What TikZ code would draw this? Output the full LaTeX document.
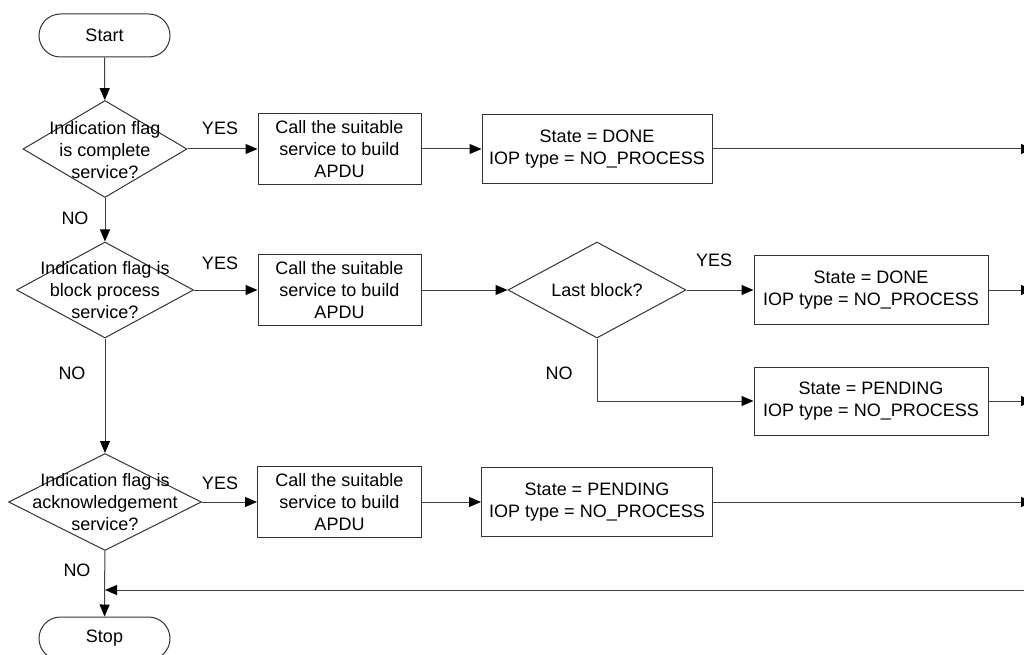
\documentclass[tikz,border=0pt]{standalone}
\usepackage{fontspec}
\setmainfont{Liberation Sans}
\usetikzlibrary{arrows.meta,shapes.geometric}

\begin{document}
\begin{tikzpicture}[x=1pt,y=-1pt,
  every node/.style={font=\fontsize{18}{22}\selectfont, text=black},
  line/.style={draw=black!75, line width=1pt},
  flow/.style={line, -{Triangle[length=12pt,width=10pt,color=black]}},
  terminal/.style={draw=black!80, line width=1pt, rounded corners=21.5pt,
    minimum width=131pt, minimum height=43pt, inner sep=0pt},
  process/.style={draw=black!80, line width=1pt, align=center, inner sep=0pt},
  decision/.style={draw=black!80, line width=1pt, diamond, inner sep=0pt},
  dtext/.style={align=center, inner sep=0pt},
  lbl/.style={inner sep=0pt}
]
\useasboundingbox (0,0) rectangle (1024,655);

% terminals
\node[terminal] (start) at (104.5,35.5) {Start};
\node[terminal] (stop) at (104.5,638.5) {Stop};

% decisions on the main column
\node[decision, minimum width=164pt, minimum height=97pt] (d1) at (105,149) {};
\node[dtext] (d1t) at (105,150) {Indication flag\\is complete\\service?};
\node[decision, minimum width=177pt, minimum height=96pt] (d2) at (105,290) {};
\node[dtext] (d2t) at (105,290) {Indication flag is\\block process\\service?};
\node[decision, minimum width=193pt, minimum height=97pt] (d3) at (105,502) {};
\node[dtext] (d3t) at (105,502) {Indication flag is\\acknowledgement\\service?};

% build steps
\node[process, minimum width=163pt, minimum height=71pt] (b1) at (339.5,149) {Call the suitable\\service to build\\APDU};
\node[process, minimum width=163pt, minimum height=71pt] (b2) at (339.5,290) {Call the suitable\\service to build\\APDU};
\node[process, minimum width=164pt, minimum height=71pt] (b3) at (339.5,502) {Call the suitable\\service to build\\APDU};

% state assignments and the last-block test
\node[process, minimum width=230pt, minimum height=68pt] (done1) at (597,149) {State = DONE\\IOP type = NO\_PROCESS};
\node[process, minimum width=231pt, minimum height=69pt] (pend3) at (597,502) {State = PENDING\\IOP type = NO\_PROCESS};
\node[decision, minimum width=178pt, minimum height=96pt] (db) at (597,290) {};
\node[dtext] (dbt) at (597,290) {Last block?};
\node[process, minimum width=234pt, minimum height=69pt] (done2) at (871,290) {State = DONE\\IOP type = NO\_PROCESS};
\node[process, minimum width=234pt, minimum height=68pt] (pend2) at (871,401) {State = PENDING\\IOP type = NO\_PROCESS};

% exits to the right and the return line
\coordinate (out1) at (1033,149);
\coordinate (out2) at (1033,290);
\coordinate (out3) at (1033,401);
\coordinate (out4) at (1033,502);
\coordinate (back) at (1030,590);

% connectors
\draw[flow] (start) -- (d1);
\draw[flow] (d1) -- (b1);
\draw[flow] (b1) -- (done1);
\draw[flow] (done1) -- (out1);
\draw[flow] (d1) -- (d2);
\draw[flow] (d2) -- (b2);
\draw[flow] (b2) -- (db);
\draw[flow] (db) -- (done2);
\draw[flow] (done2) -- (out2);
\draw[flow] (db.south) |- (pend2.west);
\draw[flow] (pend2) -- (out3);
\draw[flow] (d2) -- (d3);
\draw[flow] (d3) -- (b3);
\draw[flow] (b3) -- (pend3);
\draw[flow] (pend3) -- (out4);
\draw[flow] (d3) -- (stop);
\draw[flow] (back) -- (back -| d3.south);

% branch labels
\node[lbl] (y1) at (220,128) {YES};
\node[lbl] (y2) at (220,263) {YES};
\node[lbl] (y3) at (220,483) {YES};
\node[lbl] (y4) at (714,260) {YES};
\node[lbl] (n1) at (75,218) {NO};
\node[lbl] (n2) at (72,373) {NO};
\node[lbl] (n3) at (77,570) {NO};
\node[lbl] (n4) at (559,373) {NO};
\end{tikzpicture}
\end{document}
